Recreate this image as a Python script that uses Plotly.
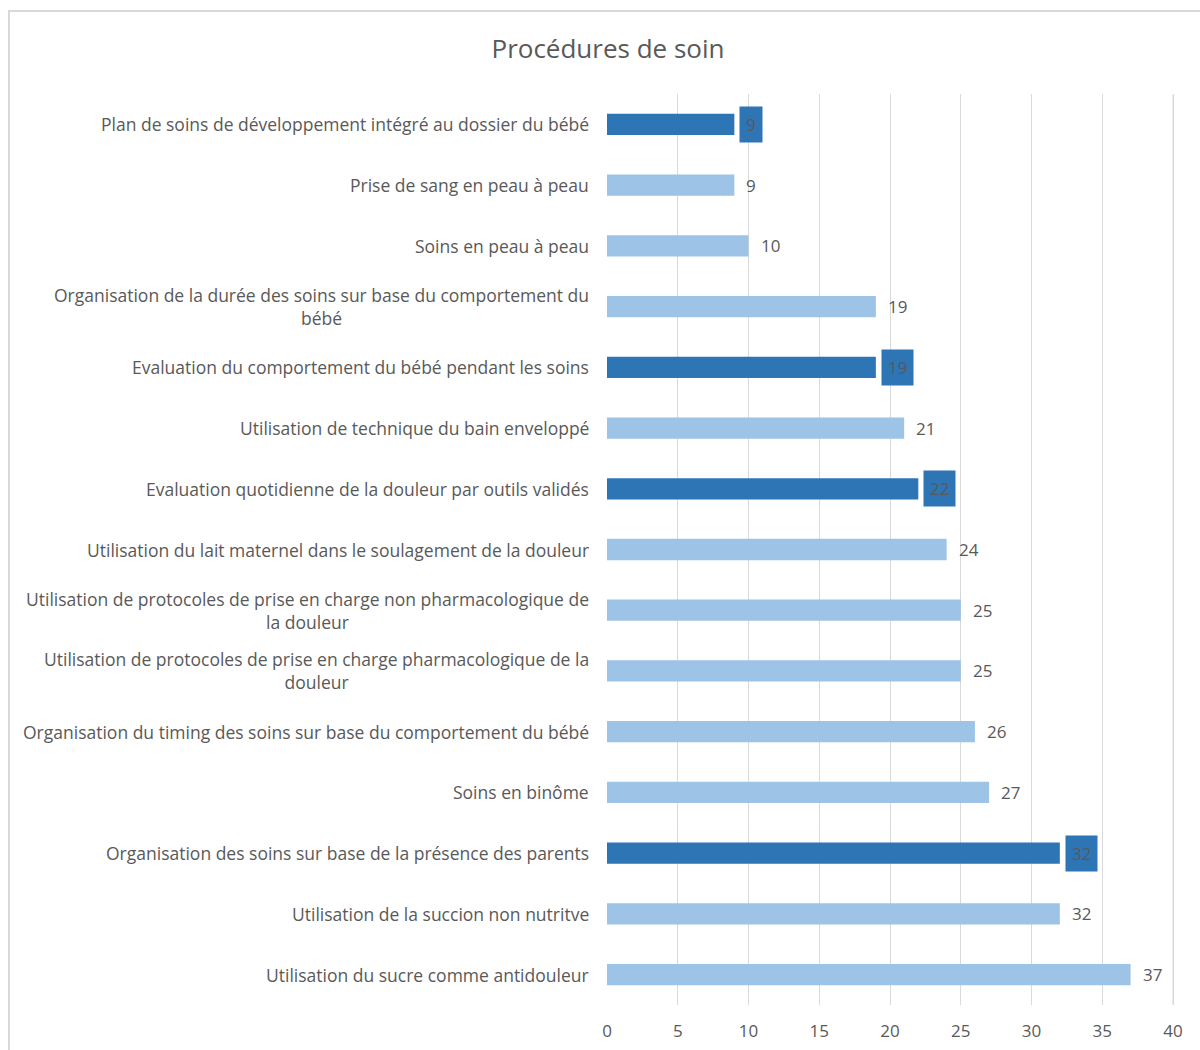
import plotly.graph_objects as go

categories = [
    "Plan de soins de développement intégré au dossier du bébé",
    "Prise de sang en peau à peau",
    "Soins en peau à peau",
    "Organisation de la durée des soins sur base du comportement du<br>bébé",
    "Evaluation du comportement du bébé pendant les soins",
    "Utilisation de technique du bain enveloppé",
    "Evaluation quotidienne de la douleur par outils validés",
    "Utilisation du lait maternel dans le soulagement de la douleur",
    "Utilisation de protocoles de prise en charge non pharmacologique de<br>la douleur",
    "Utilisation de protocoles de prise en charge pharmacologique de la<br>douleur",
    "Organisation du timing des soins sur base du comportement du bébé",
    "Soins en binôme",
    "Organisation des soins sur base de la présence des parents",
    "Utilisation de la succion non nutritve",
    "Utilisation du sucre comme antidouleur",
]
values = [9, 9, 10, 19, 19, 21, 22, 24, 25, 25, 26, 27, 32, 32, 37]
highlighted = [True, False, False, False, True, False, True, False,
               False, False, False, False, True, False, False]
x_ticks = [0, 5, 10, 15, 20, 25, 30, 35, 40]

DARK = "#2E75B6"
LIGHT = "#9DC3E6"
TEXT = "#595959"
GRID = "#D9D9D9"
FONT = "Open Sans"

keys = list(range(len(categories)))
colors = [DARK if h else LIGHT for h in highlighted]

fig = go.Figure(
    go.Bar(
        x=values,
        y=keys,
        orientation="h",
        marker=dict(color=colors, line=dict(width=0)),
        width=0.35,
        hoverinfo="x",
    )
)

annotations = []
# category labels (centred multi-line text, right-aligned against the axis)
for k, cat in zip(keys, categories):
    annotations.append(dict(
        x=0, xref="paper", y=k, yref="y",
        text=cat, showarrow=False,
        xanchor="right", yanchor="middle", align="center",
        xshift=-16,
        font=dict(family=FONT, size=17.5, color=TEXT),
    ))
# value labels; highlighted bars get a filled label box
for k, v, h in zip(keys, values, highlighted):
    annotations.append(dict(
        x=v, xref="x", y=k, yref="y",
        text=str(v), showarrow=False,
        xanchor="left", yanchor="middle",
        xshift=5,
        bgcolor=DARK if h else "rgba(0,0,0,0)",
        borderpad=6,
        font=dict(family=FONT, size=17, color=TEXT),
    ))

fig.update_layout(
    width=1200, height=1050,
    margin=dict(l=607, r=23, t=94, b=45),
    paper_bgcolor="white",
    plot_bgcolor="white",
    showlegend=False,
    title=dict(
        text="Procédures de soin",
        x=608 / 1200, xref="container", xanchor="center",
        y=1 - 49 / 1050, yref="container", yanchor="middle",
        font=dict(family=FONT, size=26, color=TEXT),
    ),
    xaxis=dict(
        range=[0, 40.28],
        tickvals=x_ticks,
        showgrid=True, gridcolor=GRID, gridwidth=1,
        zeroline=False, showline=False,
        ticks="", ticklabelstandoff=14,
        tickfont=dict(family=FONT, size=17, color=TEXT),
        automargin=False,
        fixedrange=True,
    ),
    yaxis=dict(
        range=[len(categories) - 0.5, -0.5],
        tickvals=keys, showticklabels=False,
        showgrid=False, zeroline=False, showline=False,
        automargin=False,
        fixedrange=True,
    ),
    annotations=annotations,
    shapes=[
        # outer chart border
        dict(
            type="rect", xref="paper", yref="paper",
            x0=(9 - 607) / 570, x1=(1230 - 607) / 570,
            y0=-0.2, y1=(1005 - 11) / 911,
            line=dict(color=GRID, width=2),
            fillcolor="rgba(0,0,0,0)",
            layer="below",
        ),
        # gridline at the last tick (range end)
        dict(
            type="line", xref="x", yref="paper",
            x0=x_ticks[-1], x1=x_ticks[-1], y0=0, y1=1,
            line=dict(color=GRID, width=1),
            layer="below",
        ),
    ],
)

fig.write_html("out.html")
